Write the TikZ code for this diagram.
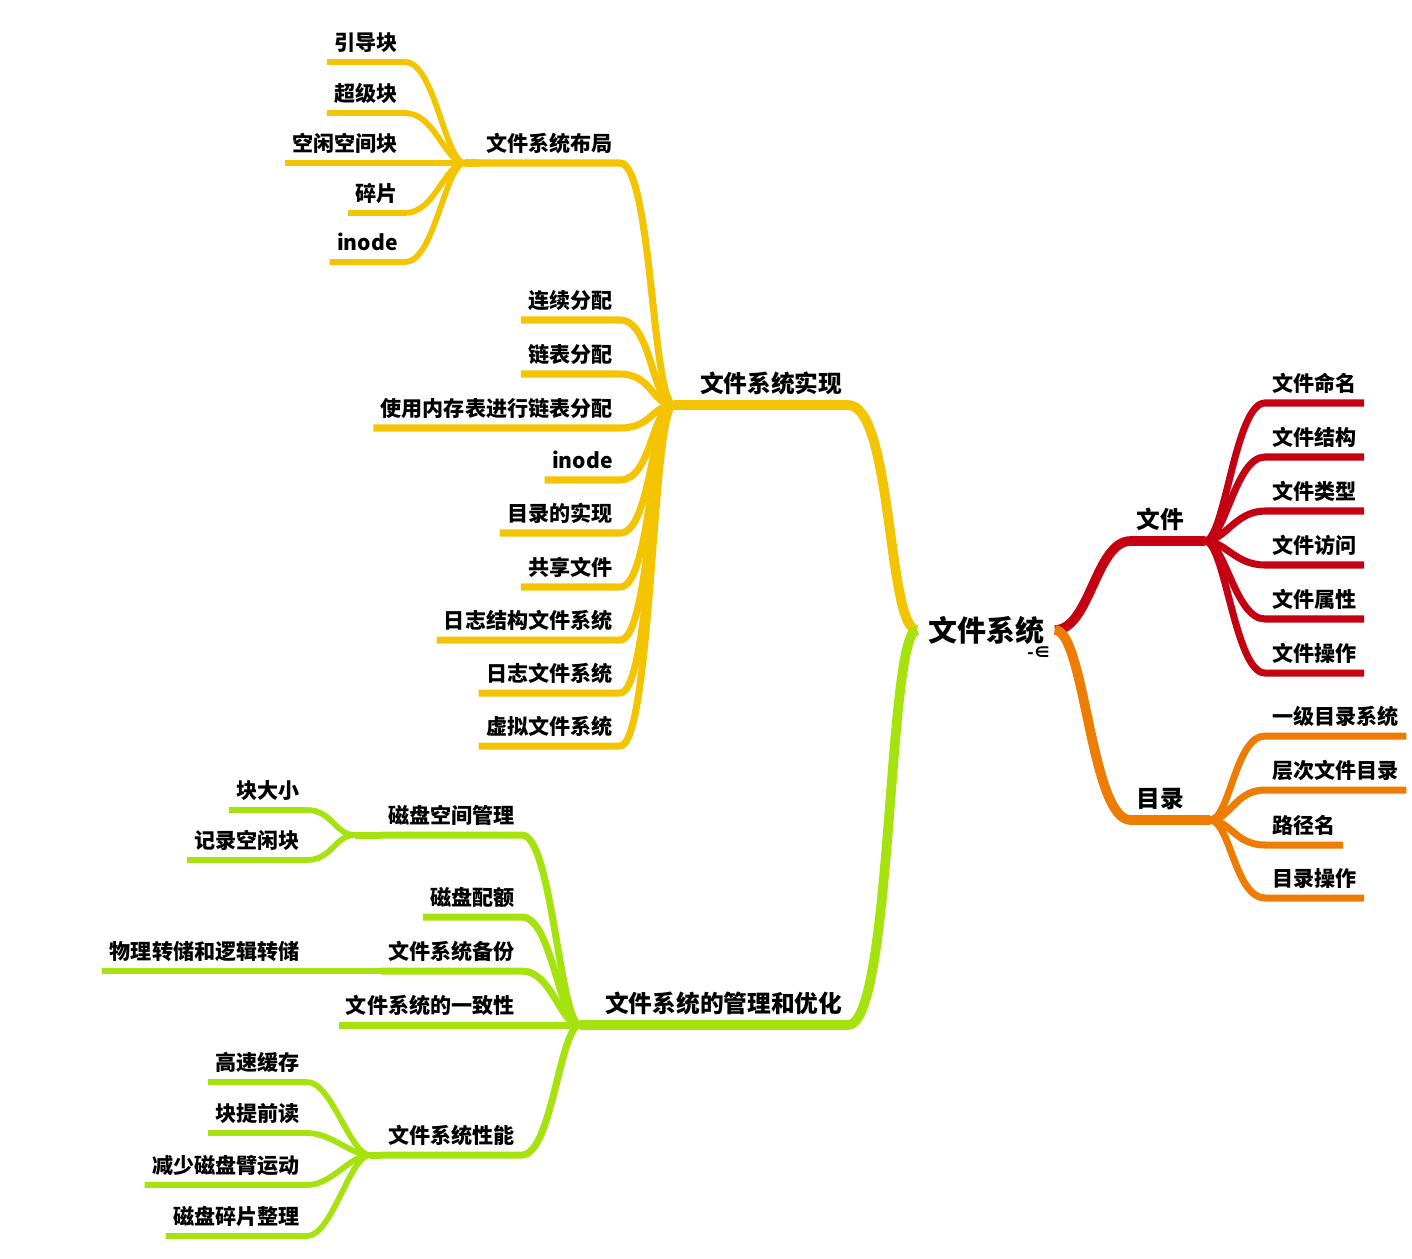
\documentclass[tikz,border=0pt]{standalone}
\usepackage{fontspec}
\setmainfont{Noto Sans CJK SC}
\usetikzlibrary{positioning}
\definecolor{mmyellow}{RGB}{245,196,0}
\definecolor{mmgreen}{RGB}{166,226,14}
\definecolor{mmred}{RGB}{196,0,18}
\definecolor{mmorange}{RGB}{238,124,0}

\begin{document}
\begin{tikzpicture}[
  x=0.02cm, y=-0.02cm,
  root/.style={font=\fontsize{16.5}{18}\selectfont\bfseries, inner xsep=6pt, inner ysep=2pt},
  topic/.style={font=\fontsize{13.5}{15}\selectfont\bfseries, inner xsep=3pt, inner ysep=5pt, text height=11.8pt, text depth=1.7pt},
  leaf/.style={font=\fontsize{12}{14}\selectfont\bfseries, inner xsep=4pt, inner ysep=5pt, text height=10.5pt, text depth=1.5pt},
  trunk/.style={line width=5.5pt},
  twig/.style={line width=4pt},
  leafline/.style={line width=3.3pt}
]
\useasboundingbox (0,0) rectangle (1412,1258);

\node[root] (fs) at (986,630) {文件系统};
\node[font=\fontsize{9.5}{10}\selectfont\bfseries, inner sep=0pt] (fold) at (1039,653) {-∈};

\node[topic, anchor=south east] (impl) at (848,405) {文件系统实现};
\node[topic, anchor=south east] (mgmt) at (848,1025) {文件系统的管理和优化};
\node[topic, anchor=south] (file) at (1160,541) {文件};
\node[topic, anchor=south] (dir) at (1160,820) {目录};

\coordinate (jimpl) at (674,405);
\coordinate (jmgmt) at (580,1025);
\coordinate (jfile) at (1205,541);
\coordinate (jdir) at (1210,820);

\node[leaf, anchor=south east] (layout) at (620,163) {文件系统布局};
\node[leaf, anchor=south east] (contig) at (620,320) {连续分配};
\node[leaf, anchor=south east] (linked) at (620,374) {链表分配};
\node[leaf, anchor=south east] (memtab) at (620,428) {使用内存表进行链表分配};
\node[leaf, anchor=south east] (inodeb) at (620,480) {inode};
\node[leaf, anchor=south east] (dirimpl) at (620,533) {目录的实现};
\node[leaf, anchor=south east] (shared) at (620,587) {共享文件};
\node[leaf, anchor=south east] (lfs) at (620,640) {日志结构文件系统};
\node[leaf, anchor=south east] (journal) at (620,693) {日志文件系统};
\node[leaf, anchor=south east] (vfs) at (620,746) {虚拟文件系统};

\coordinate (jlayout) at (465,163);
\node[leaf, anchor=south east] (boot) at (405,62) {引导块};
\node[leaf, anchor=south east] (super) at (405,113) {超级块};
\node[leaf, anchor=south east] (freesp) at (405,163) {空闲空间块};
\node[leaf, anchor=south east] (frag) at (405,213) {碎片};
\node[leaf, anchor=south east] (inodea) at (405,262) {inode};

\node[leaf, anchor=south east] (space) at (522,835) {磁盘空间管理};
\node[leaf, anchor=south east] (quota) at (522,917) {磁盘配额};
\node[leaf, anchor=south east] (backup) at (522,971) {文件系统备份};
\node[leaf, anchor=south east] (consist) at (522,1025) {文件系统的一致性};
\node[leaf, anchor=south east] (perf) at (522,1155) {文件系统性能};

\coordinate (jspace) at (355,835);
\node[leaf, anchor=south east] (blksize) at (307,810) {块大小};
\node[leaf, anchor=south east] (freeblk) at (307,860) {记录空闲块};
\node[leaf, anchor=south east] (dump) at (307,971) {物理转储和逻辑转储};

\coordinate (jperf) at (370,1155);
\node[leaf, anchor=south east] (cache) at (307,1082) {高速缓存};
\node[leaf, anchor=south east] (ahead) at (307,1133) {块提前读};
\node[leaf, anchor=south east] (arm) at (307,1185) {减少磁盘臂运动};
\node[leaf, anchor=south east] (defrag) at (307,1236) {磁盘碎片整理};

\node[leaf, anchor=south west] (fname) at (1265,403) {文件命名};
\node[leaf, anchor=south west] (fstruct) at (1265,457) {文件结构};
\node[leaf, anchor=south west] (ftype) at (1265,511) {文件类型};
\node[leaf, anchor=south west] (faccess) at (1265,565) {文件访问};
\node[leaf, anchor=south west] (fattr) at (1265,619) {文件属性};
\node[leaf, anchor=south west] (fops) at (1265,673) {文件操作};

\node[leaf, anchor=south west] (single) at (1265,736) {一级目录系统};
\node[leaf, anchor=south west] (tree) at (1265,790) {层次文件目录};
\node[leaf, anchor=south west] (path) at (1265,845) {路径名};
\node[leaf, anchor=south west] (dirops) at (1265,898) {目录操作};

\draw[trunk, mmyellow] (fs.west) .. controls +(-30,0) and +(45,0) .. (impl.south east) -- (jimpl);
\draw[trunk, mmgreen] (fs.west) .. controls +(-30,0) and +(45,0) .. (mgmt.south east) -- (jmgmt);
\draw[trunk, mmred] (fs.east) .. controls +(35,0) and +(-35,0) .. (file.south west) -- (jfile);
\draw[trunk, mmorange] (fs.east) .. controls +(30,0) and +(-40,0) .. (dir.south west) -- (jdir);

\foreach \n in {layout,contig,linked,memtab,inodeb,dirimpl,shared,lfs,journal,vfs}
  \draw[twig, mmyellow] (jimpl) .. controls +(-22,0) and +(32,0) .. (\n.south east) -- (\n.south west);
\draw[twig, mmyellow] (layout.south west) -- (jlayout);
\foreach \n in {boot,super,freesp,frag,inodea}
  \draw[leafline, mmyellow] (jlayout) .. controls +(-20,0) and +(30,0) .. (\n.south east) -- (\n.south west);

\foreach \n in {space,quota,backup,consist,perf}
  \draw[twig, mmgreen] (jmgmt) .. controls +(-20,0) and +(30,0) .. (\n.south east) -- (\n.south west);
\draw[twig, mmgreen] (space.south west) -- (jspace);
\draw[twig, mmgreen] (perf.south west) -- (jperf);
\foreach \n in {blksize,freeblk}
  \draw[leafline, mmgreen] (jspace) .. controls +(-20,0) and +(25,0) .. (\n.south east) -- (\n.south west);
\draw[leafline, mmgreen] (backup.south west) -- (dump.south east) -- (dump.south west);
\foreach \n in {cache,ahead,arm,defrag}
  \draw[leafline, mmgreen] (jperf) .. controls +(-20,0) and +(25,0) .. (\n.south east) -- (\n.south west);

\foreach \n in {fname,fstruct,ftype,faccess,fattr,fops}
  \draw[twig, mmred] (jfile) .. controls +(20,0) and +(-30,0) .. (\n.south west) -- (\n.south east);
\foreach \n in {single,tree,path,dirops}
  \draw[twig, mmorange] (jdir) .. controls +(20,0) and +(-30,0) .. (\n.south west) -- (\n.south east);

\end{tikzpicture}
\end{document}
